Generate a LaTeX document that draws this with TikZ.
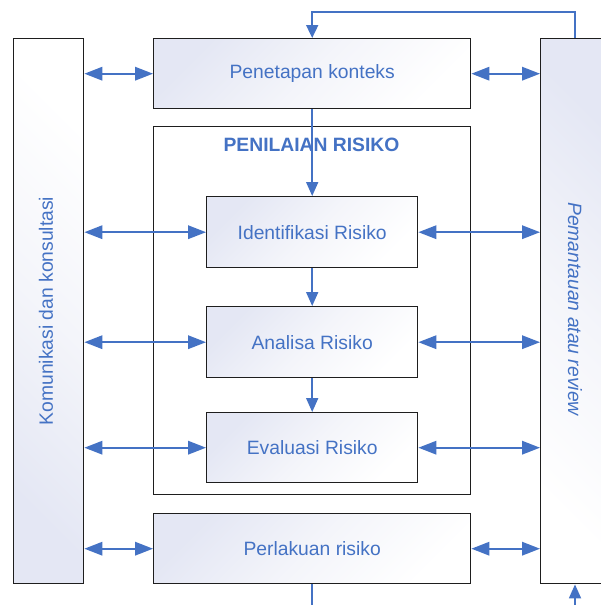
\documentclass[tikz,border=0pt]{standalone}
\usepackage{fontspec}
\setmainfont{Liberation Sans}
\usetikzlibrary{arrows.meta}
\definecolor{myblue}{RGB}{68,114,196}
\definecolor{myshade}{RGB}{228,231,244}
\definecolor{mymid}{RGB}{244,245,250}
\definecolor{myborder}{RGB}{30,30,30}
\tikzset{
  box/.style={rectangle, draw=myborder, line width=1.4pt, anchor=north west,
    inner sep=0pt, text=myblue, font=\fontsize{19.3}{23}\selectfont},
  tlshade/.style={top color=myshade, bottom color=white, middle color=mymid, shading angle=45},
  blshade/.style={top color=white, bottom color=myshade, middle color=mymid, shading angle=-45},
  trshade/.style={top color=myshade, bottom color=white, middle color=mymid, shading angle=-45},
  dbl/.style={draw=myblue, line width=1.8pt, {Triangle[length=18pt,width=13.5pt]}-{Triangle[length=18pt,width=13.5pt]}},
  sgl/.style={draw=myblue, line width=1.8pt, -{Triangle[length=14pt,width=12pt]}},
  plain/.style={draw=myblue, line width=1.8pt},
  sidetext/.style={text=myblue, font=\fontsize{19.3}{23}\selectfont},
}
\begin{document}
\begin{tikzpicture}[x=1pt,y=-1pt]
\useasboundingbox (0,0) rectangle (600,605);
% boxes
\node[box, blshade, minimum width=70pt, minimum height=545pt] (kom) at (13,38) {};
\node[box, trshade, minimum width=70pt, minimum height=545pt] (pem) at (540,38) {};
\node[box, tlshade, minimum width=317pt, minimum height=70pt] (pen) at (153,38) {Penetapan konteks};
\node[box, fill=white, minimum width=317pt, minimum height=368pt] (nil) at (153,126) {};
\node[text=myblue, font=\fontsize{19.3}{23}\selectfont\bfseries] (niltitle) at (311.5,145) {PENILAIAN RISIKO};
\node[box, tlshade, minimum width=211pt, minimum height=71pt] (ide) at (206,196) {Identifikasi Risiko};
\node[box, tlshade, minimum width=211pt, minimum height=71pt] (ana) at (206,306) {Analisa Risiko};
\node[box, tlshade, minimum width=211pt, minimum height=70pt] (eva) at (206,412) {Evaluasi Risiko};
\node[box, tlshade, minimum width=317pt, minimum height=70pt] (per) at (153,513) {Perlakuan risiko};
% side texts
\node[sidetext, rotate=90] (komt) at (46,311) {Komunikasi dan konsultasi};
\node[sidetext, rotate=-90, font=\fontsize{19.3}{23}\selectfont\itshape] (pemt) at (575,309) {Pemantauan atau review};
% double arrows left
\draw[dbl] (kom.east |- pen.west) -- (pen.west);
\draw[dbl] (kom.east |- ide.west) -- (ide.west);
\draw[dbl] (kom.east |- ana.west) -- (ana.west);
\draw[dbl] (kom.east |- eva.west) -- (eva.west);
\draw[dbl] (kom.east |- per.west) -- (per.west);
% double arrows right
\draw[dbl] (pen.east) -- (pem.west |- pen.east);
\draw[dbl] (ide.east) -- (pem.west |- ide.east);
\draw[dbl] (ana.east) -- (pem.west |- ana.east);
\draw[dbl] (eva.east) -- (pem.west |- eva.east);
\draw[dbl] (per.east) -- (pem.west |- per.east);
% vertical flow
\draw[sgl] (pen.south) -- (ide.north);
\draw[sgl] (ide.south) -- (ana.north);
\draw[sgl] (ana.south) -- (eva.north);
% feedback loop top
\coordinate (fbstart) at (575,38);
\coordinate (fbtop) at (575,12);
\draw[sgl, -{Triangle[length=13pt,width=12pt]}] (fbstart) -- (fbtop) -| (pen.north);
% bottom
\coordinate (bot1) at (311.5,605);
\coordinate (bot2) at (575,605);
\draw[plain] (per.south) -- (per.south |- bot1);
\draw[sgl] (bot2) -- (bot2 |- pem.south);
\end{tikzpicture}
\end{document}
